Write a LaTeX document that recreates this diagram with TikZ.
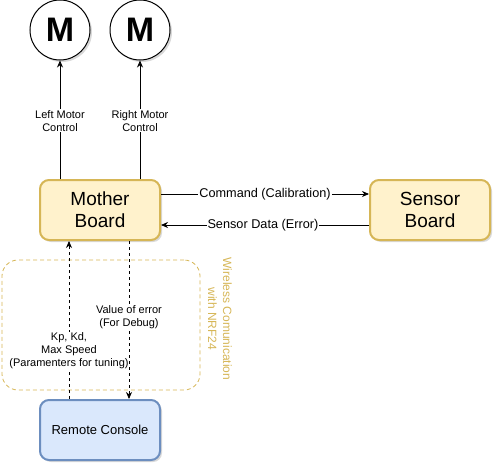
\documentclass[tikz,border=0pt]{standalone}
\usepackage{fontspec}
\setmainfont{Liberation Sans}
\usetikzlibrary{arrows.meta,shadows}
\definecolor{yfill}{HTML}{FFF2CC}
\definecolor{ystroke}{HTML}{D6B656}
\definecolor{bfill}{HTML}{DAE8FC}
\definecolor{bstroke}{HTML}{6C8EBF}
\tikzset{
  shad/.style={drop shadow={shadow xshift=2pt,shadow yshift=-2pt,opacity=0.25,fill=black!60}},
  motor/.style={circle,draw=black,fill=white,line width=1pt,minimum size=60pt,inner sep=0pt,font=\fontsize{34}{36}\selectfont\bfseries,shad},
  yellowbox/.style={rectangle,rounded corners=9pt,draw=ystroke,fill=yfill,line width=2pt,minimum width=120pt,minimum height=60pt,align=center,font=\fontsize{19}{22}\selectfont,shad},
  bluebox/.style={rectangle,rounded corners=9pt,draw=bstroke,fill=bfill,line width=2pt,minimum width=120pt,minimum height=60pt,align=center,font=\fontsize{13}{15}\selectfont,shad},
  arr/.style={-{Stealth[length=7pt,width=6pt]},line width=0.8pt},
  darr/.style={arr,dash pattern=on 3pt off 3pt},
  lab/.style={fill=white,inner sep=1pt,align=center,font=\fontsize{11}{13}\selectfont},
  biglab/.style={lab,font=\fontsize{12.7}{14}\selectfont},
}
\begin{document}
\begin{tikzpicture}[x=1pt,y=-1pt]
\useasboundingbox (0,0) rectangle (504,474);
% container
\node[draw=ystroke,dash pattern=on 4pt off 3pt,line width=0.8pt,rounded corners=16pt,minimum width=198pt,minimum height=130pt,inner sep=0pt] (cont) at (101,325) {};
\node[rotate=-90,text=ystroke,align=center,font=\fontsize{12}{15}\selectfont] (wl) at (220,319) {Wireless Comunication\\with NRF24};
% nodes
\node[motor] (m1) at (60,30) {M};
\node[motor] (m2) at (140,30) {M};
\node[yellowbox] (mb) at (100,210) {Mother\\Board};
\node[yellowbox] (sb) at (430,210) {Sensor\\Board};
\node[bluebox] (rc) at (100,430) {Remote Console};
% motor connectors
\draw[arr] (m1.south |- mb.north) -- (m1.south) node[lab,pos=0.49] (l1) {Left Motor\\Control};
\draw[arr] (m2.south |- mb.north) -- (m2.south) node[lab,pos=0.49] (l2) {Right Motor\\Control};
% sensor connectors
\draw[arr] ([yshift=-15pt]mb.north east) -- ([yshift=-15pt]sb.north west) node[biglab,midway] (l3) {Command (Calibration)};
\draw[arr] ([yshift=-46pt]sb.north west) -- ([yshift=-46pt]mb.north east) node[biglab,pos=0.51] (l4) {Sensor Data (Error)};
% wireless connectors
\draw[darr] ([xshift=30pt]rc.north west) -- ([xshift=30pt]mb.south west) node[lab,pos=0.306] (l5) {Kp, Kd,\\Max Speed\\(Paramenters for tuning)};
\draw[darr] ([xshift=90pt]mb.south west) -- ([xshift=90pt]rc.north west) node[lab,pos=0.484] (l6) {Value of error\\(For Debug)};
\end{tikzpicture}
\end{document}
